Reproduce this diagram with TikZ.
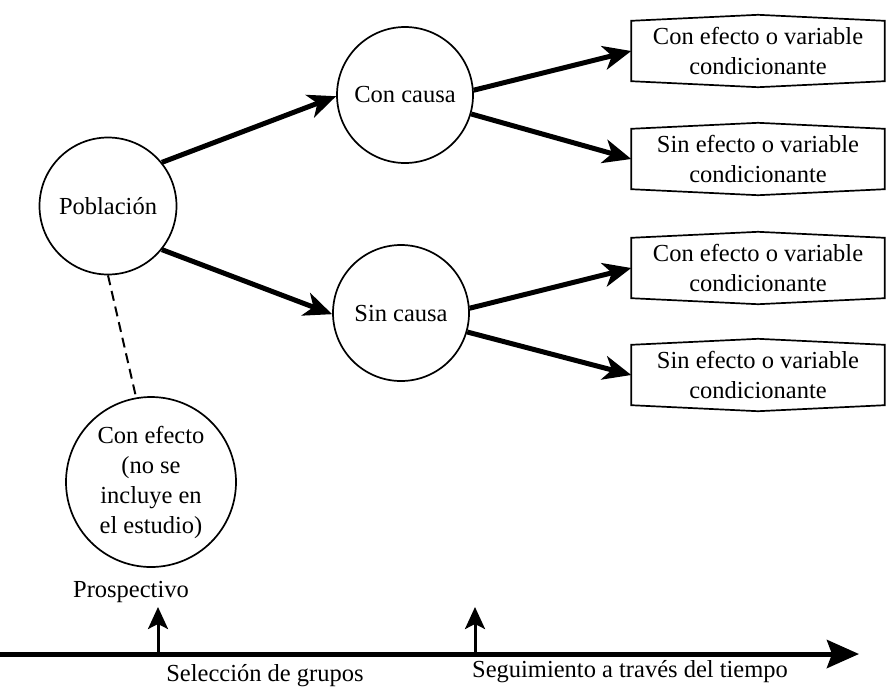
\documentclass[tikz,border=0pt]{standalone}
\usepackage{fontspec}
\setmainfont{Liberation Serif}
\usetikzlibrary{arrows.meta}

\tikzset{
  circulo/.style={draw, circle, line width=1.7pt, inner sep=0pt},
  caja/.style={rectangle, minimum width=253pt, minimum height=60pt, align=center, inner sep=0pt},
  flecha/.style={line width=5pt, -{Stealth[length=28pt, width=24pt, inset=8pt]}},
  marca/.style={line width=3pt, -{Stealth[length=22pt, width=20pt, inset=5pt]}},
}
\newcommand{\bordecaja}[1]{\draw[line width=1.7pt] (#1.south west) -- (#1.north west) -- ([yshift=6pt]#1.north) -- (#1.north east) -- (#1.south east) -- ([yshift=-6pt]#1.south) -- cycle;}

\begin{document}
\begin{tikzpicture}[x=1pt, y=-1pt, font=\fontsize{24.5}{30}\selectfont]
\useasboundingbox (0, 0) rectangle (888, 689);

\node (pob) at (108, 206) [circulo, minimum size=137pt] {Población};
\node (cc) at (405, 95) [circulo, minimum size=136pt] {Con causa};
\node (sc) at (401, 313) [circulo, minimum size=136pt] {Sin causa};
\node (ce) at (151, 482) [circulo, minimum size=170pt, align=center] {Con efecto\\(no se\\incluye en\\el estudio)};

\node (c1) at (758, 51) [caja] {Con efecto o variable\\condicionante};
\node (c2) at (758, 159) [caja] {Sin efecto o variable\\condicionante};
\node (c3) at (758, 268) [caja] {Con efecto o variable\\condicionante};
\node (c4) at (758, 375) [caja] {Sin efecto o variable\\condicionante};
\bordecaja{c1}
\bordecaja{c2}
\bordecaja{c3}
\bordecaja{c4}

\draw[flecha] (pob.39) -- (cc.181);
\draw[flecha] (pob.-39) -- (sc.181);
\draw[flecha] (cc.4) -- (c1.west);
\draw[flecha] (cc.-16) -- (c2.west);
\draw[flecha] (sc.4) -- (c3.west);
\draw[flecha] (sc.-16) -- (c4.west);
\draw[line width=2pt, dash pattern=on 10pt off 6pt] (pob.south) -- (ce.100);

% eje del tiempo
\coordinate (t0) at (0, 654);
\coordinate (t1) at (859, 654);
\draw[line width=5pt, -{Stealth[length=32pt, width=28pt, inset=5pt]}] (t0) -- (t1);
\coordinate (p1) at (158, 652);
\coordinate (q1) at (158, 607);
\coordinate (p2) at (475, 652);
\coordinate (q2) at (475, 607);
\draw[marca] (p1) -- (q1);
\draw[marca] (p2) -- (q2);

\node (pro) at (131, 592) {Prospectivo};
\node (sel) at (265, 676) {Selección de grupos};
\node (seg) at (630, 672) {Seguimiento a través del tiempo};
\end{tikzpicture}
\end{document}
